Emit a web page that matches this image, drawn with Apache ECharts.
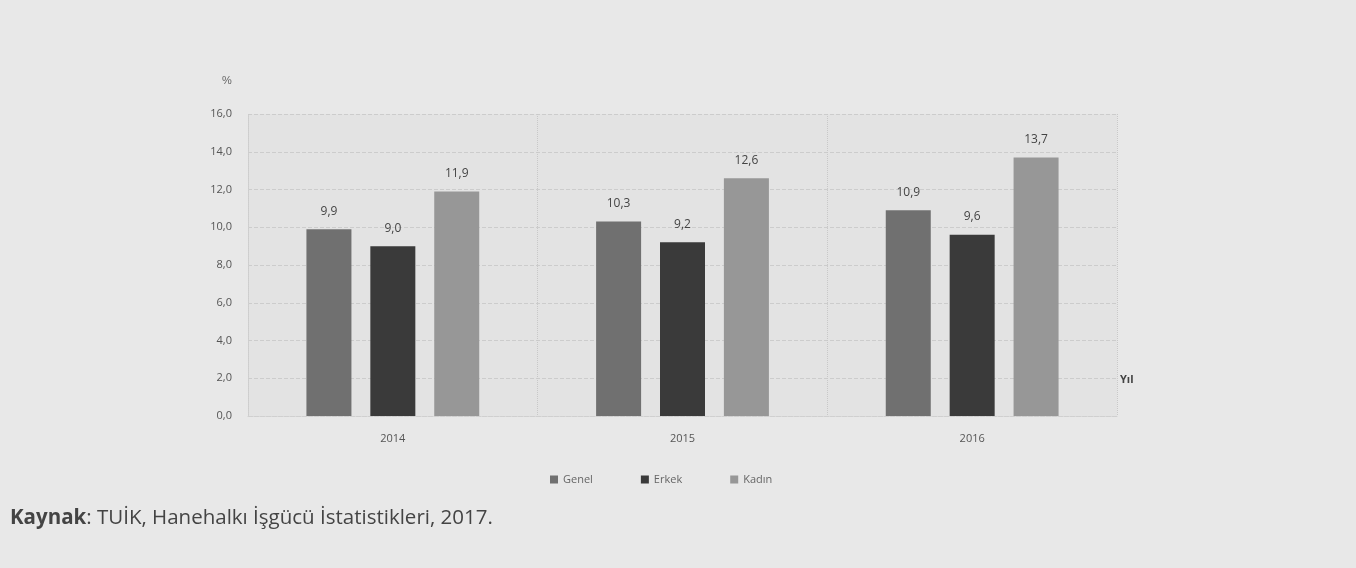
<!DOCTYPE html>
<html><head><meta charset="utf-8">
<script src="https://cdn.jsdelivr.net/npm/echarts@6/dist/echarts.min.js"></script>
<style>html,body{margin:0;padding:0;background:#e8e8e8;}#c{width:1356px;height:568px;}</style>
</head><body><div id="c"></div>
<script>
const categories = ['2014', '2015', '2016'];
const genel = [9.9, 10.3, 10.9];
const erkek = [9.0, 9.2, 9.6];
const kadin = [11.9, 12.6, 13.7];
const seriesNames = ['Genel', 'Erkek', 'Kadın'];
const yTicks = {min: 0, max: 16, interval: 2};

const chart = echarts.init(document.getElementById('c'), null, {renderer: 'canvas'});
const lbl = {show: true, position: 'top', distance: 12, color: '#444', fontSize: 12, fontFamily: 'Open Sans',
  formatter: p => p.value.toFixed(1).replace('.', ',')};
function mk(name, data, color) {
  return {name, type: 'bar', data, barWidth: 45, barGap: '42%', itemStyle: {color}, label: lbl};
}
chart.setOption({
  backgroundColor: '#e8e8e8',
  animation: false,
  grid: {left: 248, right: 239, top: 114, bottom: 152, show: true, backgroundColor: '#e3e3e3', borderWidth: 0},
  legend: {bottom: 78, left: 545, itemWidth: 8, itemHeight: 8, itemGap: 48, icon: 'rect',
    textStyle: {color: '#666', fontSize: 11, fontFamily: 'Open Sans'}, data: seriesNames},
  xAxis: {type: 'category', data: categories,
    axisLine: {show: true, lineStyle: {color: '#d0d0d0', type: 'dotted'}}, axisTick: {show: false},
    axisLabel: {color: '#555', fontSize: 11, margin: 17, fontFamily: 'Open Sans'},
    splitLine: {show: true, lineStyle: {color: '#c8c8c8', type: 'dotted'}}},
  yAxis: {type: 'value', min: yTicks.min, max: yTicks.max, interval: yTicks.interval, name: '%',
    nameLocation: 'end', nameGap: 28, nameTextStyle: {color: '#666', fontSize: 11, padding: [0, 42, 0, 0]},
    axisLine: {show: true, lineStyle: {color: '#d0d0d0', type: 'dotted'}},
    axisLabel: {color: '#555', fontSize: 11, margin: 16, fontFamily: 'Open Sans',
      formatter: v => v.toFixed(1).replace('.', ',')},
    splitLine: {lineStyle: {color: '#cccccc', type: 'dashed'}}},
  series: [mk(seriesNames[0], genel, '#707070'), mk(seriesNames[1], erkek, '#3a3a3a'), mk(seriesNames[2], kadin, '#979797')],
  graphic: [
    {type: 'text', left: 1120, top: 374, style: {text: 'Yıl', fontSize: 11, fontWeight: 'bold', fill: '#444', fontFamily: 'Open Sans'}},
    {type: 'text', left: 10, top: 508, style: {rich: {b: {fontWeight: 'bold', fontSize: 20.5, fill: '#444', fontFamily: 'Open Sans'}, n: {fontSize: 20.5, fill: '#444', fontFamily: 'Open Sans'}},
    text: '{b|Kaynak}{n|: TUİK, Hanehalkı İşgücü İstatistikleri, 2017.}'}}]
});
</script></body></html>
